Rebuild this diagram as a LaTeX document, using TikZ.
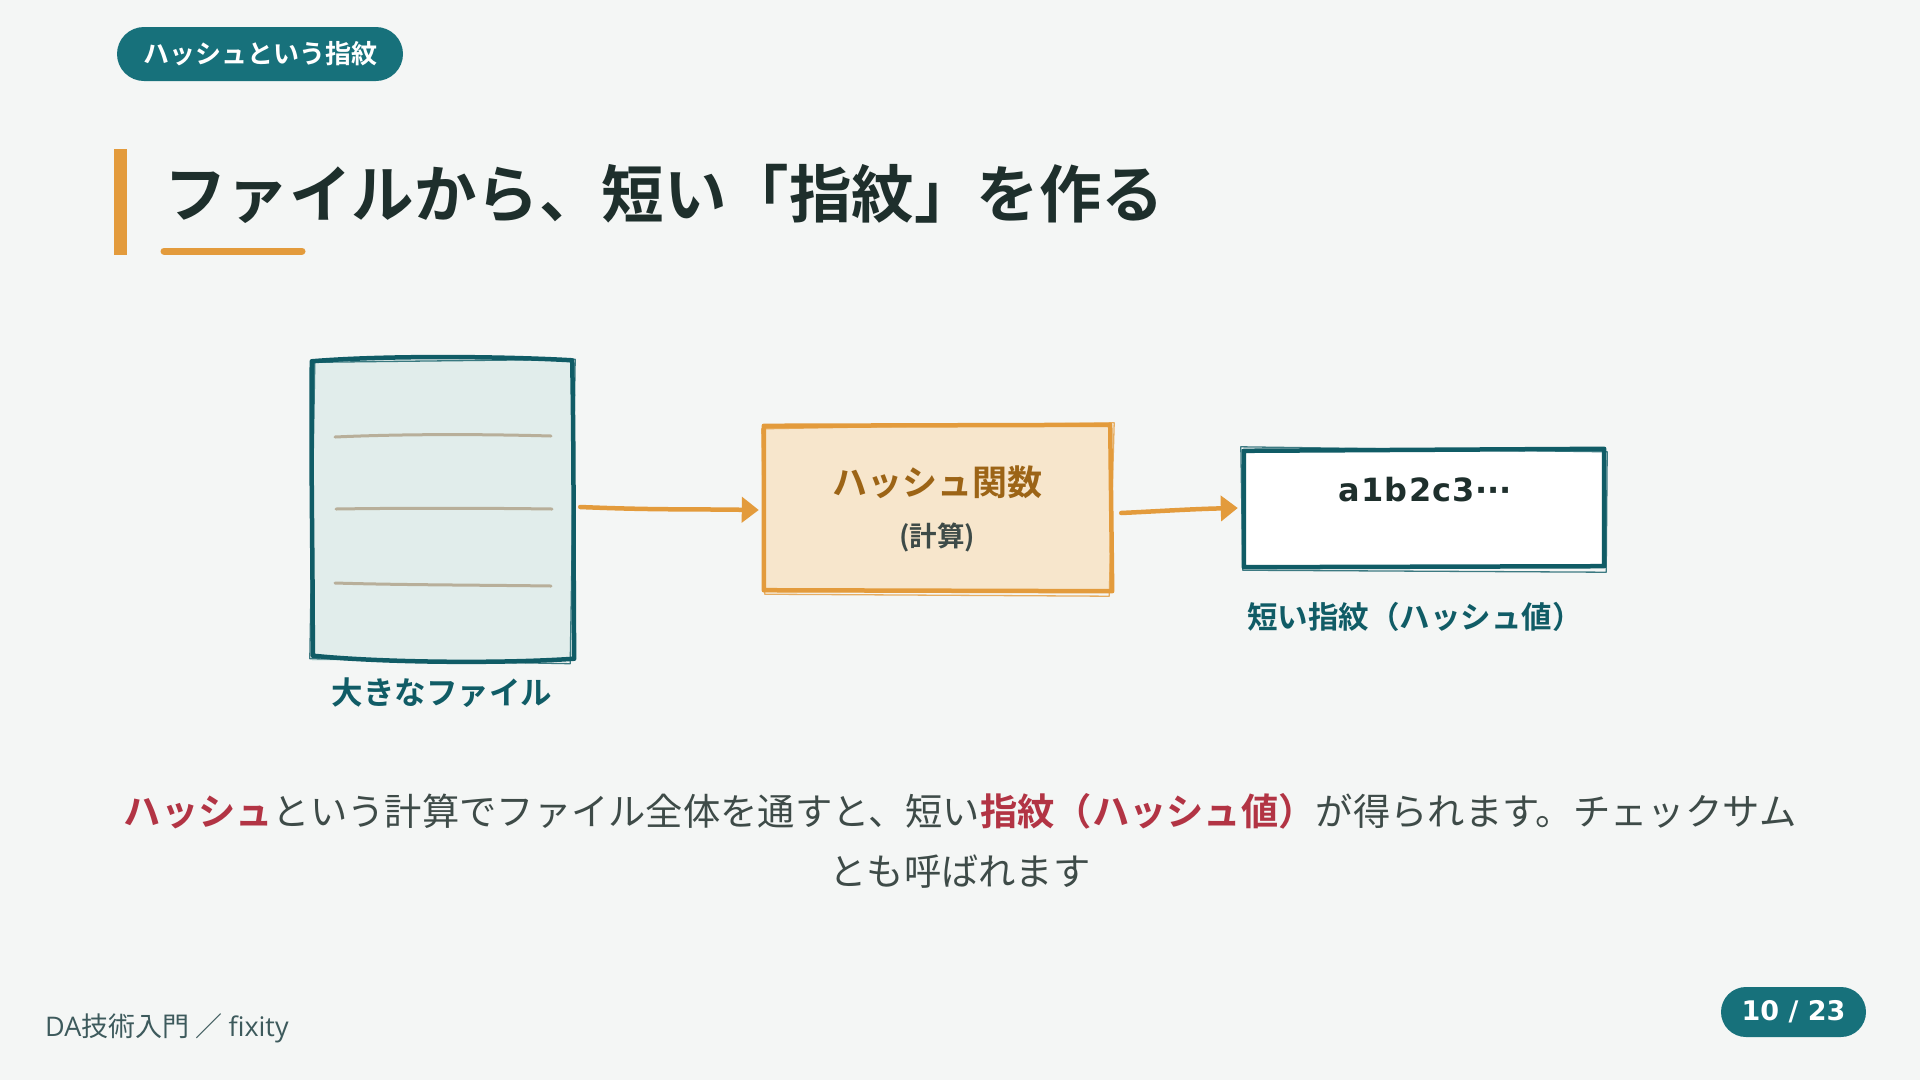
\documentclass[tikz,border=0pt]{standalone}
\usepackage{fontspec}
\setmainfont{Noto Sans CJK JP}[BoldFont=* Bold]
\newfontfamily\latin{Open Sans}
\newfontfamily\latinwide{DejaVu Sans}[LetterSpace=4]
\newfontfamily\latinpage{DejaVu Sans}
\usetikzlibrary{arrows.meta,calc}
\definecolor{bg}{HTML}{F4F6F5}
\definecolor{pillteal}{HTML}{17717B}
\definecolor{darkteal}{HTML}{105C66}
\definecolor{titletext}{HTML}{1E2F2C}
\definecolor{accent}{HTML}{E39B3C}
\definecolor{filefill}{HTML}{E1EDEB}
\definecolor{ruleline}{HTML}{B8AF9A}
\definecolor{midfill}{HTML}{F7E6CC}
\definecolor{brown}{HTML}{9C6416}
\definecolor{greytext}{HTML}{3E4B48}
\definecolor{hlred}{HTML}{B23444}
\definecolor{foot}{HTML}{3D5A5C}
\newcommand{\fs}[1]{\fontsize{#1}{#1}\selectfont}
\tikzset{
  pillbox/.style={fill=pillteal, text=white, inner sep=0pt, font=\bfseries\fs{#1}},
  sketchmain/.style={line width=4.5pt, line join=round, line cap=round},
  sketchthin/.style={line width=1.3pt, line join=round, line cap=round, opacity=0.8},
  flowarrow/.style={draw=accent, line width=4.5pt, line cap=round, -{Triangle[length=17pt,width=25pt]}},
  boxlabel/.style={text=darkteal, font=\bfseries\fs{#1}, inner sep=0pt},
}
\begin{document}
\begin{tikzpicture}[x=1pt,y=-1pt]
\fill[bg] (0,0) rectangle (1920,1080);
\useasboundingbox (0,0) rectangle (1920,1080);

% top pill
\node[pillbox=26, minimum width=286pt, minimum height=54pt, rounded corners=27pt] (tag) at (260,54) {ハッシュという指紋};

% title
\fill[accent] (114,149) rectangle (127,255);
\node[anchor=west, inner sep=0pt, text=titletext, font=\bfseries\fs{62.5}] (title) at (164,194) {ファイルから、短い「指紋」を作る};
\draw[accent, line width=7pt, line cap=round] (164,251) -- (302,251);

% file box
\node[fill=filefill, minimum width=261pt, minimum height=301pt, inner sep=0pt] (file) at (442.5,510) {};
\draw[darkteal, sketchmain]
  ($(file.north west)+(0,2)$) .. controls ($(file.north)+(-60,-4)$) and ($(file.north)+(60,-3)$) .. ($(file.north east)+(-1,1)$)
  .. controls ($(file.east)+(1,-40)$) and ($(file.east)+(0,40)$) .. ($(file.south east)+(1,-2)$)
  .. controls ($(file.south)+(60,3)$) and ($(file.south)+(-60,2)$) .. ($(file.south west)+(1,-5)$)
  .. controls ($(file.west)+(1,40)$) and ($(file.west)+(-1,-40)$) .. cycle;
\draw[darkteal, sketchthin]
  ($(file.north west)+(3,3)$) -- ($(file.north east)+(2,0)$) -- ($(file.south east)+(-3,3)$) -- ($(file.south west)+(-2,-2)$) -- cycle;
\draw[ruleline, line width=3pt, line cap=round] (335,437) .. controls (400,434) and (480,434) .. (551,436);
\draw[ruleline, line width=3pt, line cap=round] (336,509) .. controls (400,508) and (480,508) .. (552,509);
\draw[ruleline, line width=3pt, line cap=round] (335,583) .. controls (400,585) and (480,585) .. (551,586);
\node[boxlabel=31.5] (filelabel) at (442,693) {大きなファイル};

% hash function box
\node[fill=midfill, minimum width=349pt, minimum height=168pt, inner sep=0pt] (hash) at (937.5,509) {};
\draw[accent, sketchmain]
  ($(hash.north west)+(1,1)$) -- ($(hash.north east)+(-2,0)$) -- ($(hash.south east)+(0,-2)$) -- ($(hash.south west)+(1,-3)$) -- cycle;
\draw[accent, sketchthin]
  ($(hash.north west)+(-1,4)$) -- ($(hash.north east)+(2,-2)$) -- ($(hash.south east)+(-3,3)$) -- ($(hash.south west)+(2,1)$) -- cycle;
\node[inner sep=0pt, text=brown, font=\bfseries\fs{35}] (hashname) at (937,482) {ハッシュ関数};
\node[inner sep=0pt, text=greytext, font=\bfseries\fs{27.5}] (hashsub) at (937,537) {(計算)};

% result box
\node[fill=white, minimum width=362pt, minimum height=118pt, inner sep=0pt] (result) at (1424,509) {};
\draw[darkteal, sketchmain]
  ($(result.north west)+(1,1)$) -- ($(result.north east)+(-1,-1)$) -- ($(result.south east)+(-1,-2)$) -- ($(result.south west)+(1,-1)$) -- cycle;
\draw[darkteal, sketchthin]
  ($(result.north west)+(-2,-3)$) -- ($(result.north east)+(2,2)$) -- ($(result.south east)+(1,4)$) -- ($(result.south west)+(0,2)$) -- cycle;
\node[inner sep=0pt, text=titletext, font=\bfseries\fs{32}] (hashval) at (1425,490) {{\latinwide\bfseries a1b2c3}{\latinpage\bfseries ···}};
\node[boxlabel=30.5] (resultlabel) at (1415,617) {短い指紋（ハッシュ値）};

% arrows
\draw[flowarrow] ($(file.east)+(7,-3)$) .. controls ($(file.east)+(80,0)$) and ($(hash.west)+(-80,0)$) .. ($(hash.west)+(-4,1)$);
\draw[flowarrow] ($(hash.east)+(9,4)$) .. controls ($(hash.east)+(50,2)$) and ($(result.west)+(-50,0)$) .. ($(result.west)+(-5,-1)$);

% body text
\node[inner sep=0pt, text=greytext, font=\fs{37.3}] (body1) at (960,811)
  {{\color{hlred}\bfseries ハッシュ}という計算でファイル全体を通すと、短い{\color{hlred}\bfseries 指紋（ハッシュ値）}が得られます。チェックサム};
\node[inner sep=0pt, text=greytext, font=\fs{37.3}] (body2) at (960,872) {とも呼ばれます};

% footer
\node[anchor=west, inner sep=0pt, text=foot, font=\fs{27}] (footer) at (45,1028) {{\latin DA}技術入門 ／ {\latin fixity}};
\node[pillbox=27, minimum width=145pt, minimum height=50pt, rounded corners=25pt] (page) at (1793.5,1012) {\latinpage\bfseries 10 / 23};
\end{tikzpicture}
\end{document}
